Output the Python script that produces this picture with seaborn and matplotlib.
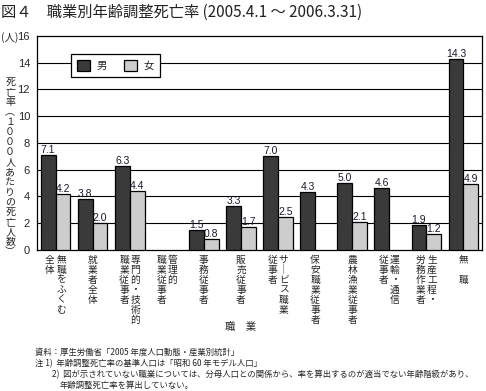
import numpy as np
import pandas as pd
import matplotlib
matplotlib.use('Agg')
import matplotlib.pyplot as plt
import seaborn as sns

# data
categories = ['無職をふくむ全体', '就業者全体', '専門的・技術的職業従事者', '管理的職業従事者',
              '事務従事者', '販売従事者', 'サービス職業従事者', '保安職業従事者',
              '農林漁業従事者', '運輸・通信従事者', '生産工程・労務作業者', '無職']
# vertical label columns (right column first, as in Japanese vertical writing)
label_cols = [['無職をふくむ', '全体'], ['就業者全体'], ['専門的・技術的', '職業従事者'],
              ['管理的', '職業従事者'], ['事務従事者'], ['販売従事者'],
              ['サ｜ビス職業', '従事者'], ['保安職業従事者'], ['農林漁業従事者'],
              ['運輸・通信', '従事者'], ['生産工程・', '労務作業者'], ['無　職']]
male = [7.1, 3.8, 6.3, np.nan, 1.5, 3.3, 7.0, 4.3, 5.0, 4.6, 1.9, 14.3]
female = [4.2, 2.0, 4.4, np.nan, 0.8, 1.7, 2.5, np.nan, 2.1, np.nan, 1.2, 4.9]
sexes = ['男', '女']
yticks = list(range(0, 17, 2))

df = pd.DataFrame({
    'cat': categories * 2,
    'sex': [sexes[0]] * len(categories) + [sexes[1]] * len(categories),
    'val': male + female,
}).dropna()

sns.set_style('white')
plt.rcParams['font.family'] = ['Liberation Sans', 'Noto Sans CJK JP']
cjk = ['Noto Sans CJK JP', 'Liberation Sans']

fig = plt.figure(figsize=(4.86, 3.91), dpi=100)
ax = fig.add_axes([0.0761, 0.3606, 0.9157, 0.5474])

sns.barplot(data=df, x='cat', y='val', hue='sex', order=categories, hue_order=sexes,
            palette=['#3a3a3a', '#cdcdcd'], edgecolor='black', linewidth=0.9,
            width=0.8, ax=ax, zorder=3)

for c in ax.containers:
    ax.bar_label(c, fmt='%.1f', padding=0, fontsize=7.5, color='#1a1a2a')

ax.set_ylim(0, 16)
ax.set_yticks(yticks)
ax.set_yticklabels([str(t) for t in yticks], fontsize=8)
ax.set_xlim(-0.5, len(categories) - 0.5)
ax.set_xticks(range(len(categories)))
ax.set_xticklabels([''] * len(categories))
ax.tick_params(axis='x', length=0)
ax.tick_params(axis='y', length=3, width=0.8, direction='out', pad=2, color='black')
ax.set_xlabel('')
ax.set_ylabel('')
for t in yticks[1:-1]:
    ax.axhline(t, color='black', linewidth=0.8, zorder=1)
for s in ax.spines.values():
    s.set_color('black')
    s.set_linewidth(0.9)

# vertical category labels
for i, cols in enumerate(label_cols):
    n = len(cols)
    offs = [0.0] if n == 1 else [0.15, -0.15]
    for col, off in zip(cols, offs):
        ax.text(i + off, -0.022, '\n'.join(col), transform=ax.get_xaxis_transform(),
                ha='center', va='top', fontsize=7, linespacing=1.0, family=cjk)

leg = ax.legend(loc='upper left', bbox_to_anchor=(0.065, 0.94), ncol=2, fontsize=7.5,
                frameon=True, fancybox=False, edgecolor='black', framealpha=1,
                handlelength=1.3, handleheight=1.3, handletextpad=0.6,
                columnspacing=1.6, borderpad=0.55, prop={'family': cjk, 'size': 7.5})
leg.get_frame().set_linewidth(0.9)
leg.set_zorder(5)

fig.text(0.019, 0.905, '(人)', ha='center', va='center', fontsize=7.5, family=cjk)

ylab = '死亡率︵１０００人あたりの死亡人数︶'
fig.text(0.021, 0.572, '\n'.join(ylab), ha='center', va='center', fontsize=7.2,
         linespacing=1.0, family=cjk)

fig.text(0.494, 0.164, '職　業', ha='center', va='center', fontsize=7.5, family=cjk)

fig.text(0.003, 0.968, '図４　職業別年齢調整死亡率 (2005.4.1 ～ 2006.3.31)', ha='left',
         va='center', fontsize=11, family=cjk, color='#222222')

notes = [
    (0.072, 0.100, '資料：厚生労働省「2005 年度人口動態・産業別統計」'),
    (0.072, 0.071, '注 1)  年齢調整死亡率の基準人口は「昭和 60 年モデル人口」'),
    (0.108, 0.041, '2)  図が示されていない職業については、分母人口との関係から、率を算出するのが適当でない年齢階級があり、'),
    (0.123, 0.013, '年齢調整死亡率を算出していない。'),
]
for x, y, s in notes:
    fig.text(x, y, s, ha='left', va='center', fontsize=6.0, family=cjk)

fig.savefig('out.png', dpi=100, facecolor='white')
